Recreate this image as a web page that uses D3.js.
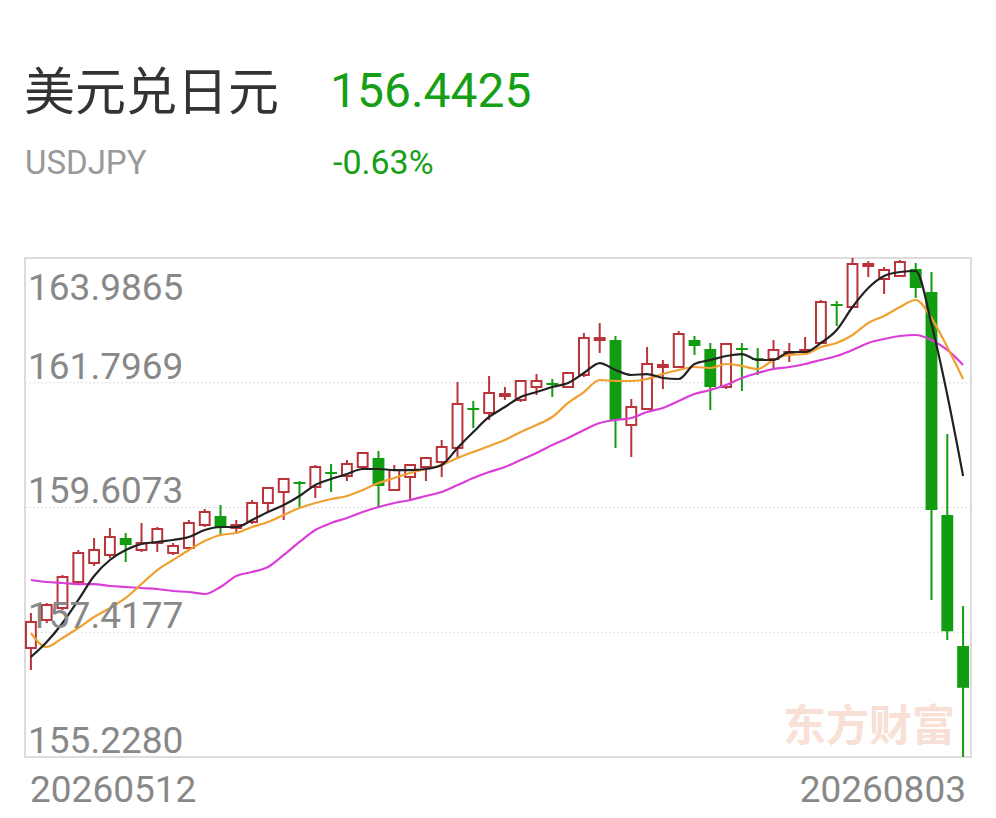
<!DOCTYPE html>
<html lang="zh">
<head>
  <meta charset="UTF-8">
  <title>美元兑日元 K线</title>
  <script src="https://d3js.org/d3.v7.min.js"></script>
  <style>
    html, body { margin: 0; padding: 0; background: #fff; }
    svg { display: block; }
  </style>
</head>
<body>
  <svg id="kline" width="996" height="818"></svg>

  <script>
    // header
    const titleText  = "美元兑日元";
    const codeText   = "USDJPY";
    const lastPrice  = "156.4425";
    const changeText = "-0.63%";

    // x labels (first / last trading day)
    const xLabels = ["20260512", "20260803"];
    // y labels
    const yTicks = [163.9865, 161.7969, 159.6073, 157.4177, 155.2280];

    // daily OHLC
    const openV = [157.141, 157.633, 157.843, 158.300, 158.633, 158.774, 159.072, 158.861, 158.984, 158.809,
      158.896, 159.300, 159.458, 159.248, 159.353, 159.686, 159.879, 160.055, 159.967, 160.230,
      160.160, 160.318, 160.476, 159.914, 160.143, 160.318, 160.406, 160.652, 161.354, 161.266,
      161.564, 161.494, 161.722, 161.792, 161.722, 161.933, 162.547, 162.547, 161.055, 161.336,
      162.073, 162.073, 162.547, 162.389, 161.722, 162.407, 162.231, 162.214, 162.302, 162.337,
      162.495, 163.179, 163.126, 163.846, 163.618, 163.671, 163.793, 163.390, 159.476, 157.176];
    const closeV = [157.598, 157.896, 158.387, 158.809, 158.861, 159.090, 158.949, 158.984, 159.230, 158.932,
      159.335, 159.528, 159.265, 159.300, 159.686, 159.950, 160.108, 160.020, 160.318, 160.195,
      160.371, 160.564, 159.985, 160.265, 160.353, 160.476, 160.669, 161.424, 161.319, 161.617,
      161.599, 161.828, 161.828, 161.757, 161.968, 162.582, 162.582, 161.143, 161.371, 162.126,
      162.108, 162.652, 162.442, 161.722, 162.477, 162.372, 162.196, 162.372, 162.337, 162.372,
      163.214, 163.144, 163.881, 163.881, 163.776, 163.916, 163.460, 159.563, 157.4345, 156.4425];
    const highV = [157.756, 157.931, 158.423, 158.861, 159.072, 159.248, 159.160, 159.335, 159.265, 158.984,
      159.388, 159.581, 159.651, 159.388, 159.739, 159.967, 160.125, 160.072, 160.353, 160.371,
      160.441, 160.581, 160.599, 160.353, 160.371, 160.494, 160.792, 161.810, 161.477, 161.915,
      161.722, 161.845, 161.951, 161.863, 161.986, 162.670, 162.846, 162.617, 161.512, 162.424,
      162.196, 162.705, 162.617, 162.495, 162.495, 162.495, 162.407, 162.547, 162.495, 162.600,
      163.249, 163.232, 163.9865, 163.934, 163.829, 163.951, 163.899, 163.741, 160.897, 157.878];
    const lowV = [156.755, 157.580, 157.808, 158.265, 158.580, 158.721, 158.651, 158.826, 158.826, 158.774,
      158.861, 159.265, 159.125, 159.142, 159.318, 159.528, 159.388, 159.616, 159.774, 159.879,
      160.072, 160.283, 159.598, 159.897, 159.756, 160.072, 160.143, 160.494, 161.003, 161.143,
      161.494, 161.459, 161.582, 161.547, 161.705, 161.898, 162.319, 160.652, 160.494, 161.319,
      161.687, 162.056, 162.284, 161.319, 161.687, 161.652, 161.933, 162.021, 162.161, 162.302,
      162.477, 162.793, 163.109, 163.653, 163.355, 163.653, 163.284, 157.984, 157.282, 155.228];

    // moving averages (black / orange / magenta)
    const ma5 = [156.983, 157.246, 157.580, 157.984, 158.405, 158.686, 158.861, 158.967, 159.002, 159.037,
      159.089, 159.212, 159.265, 159.265, 159.388, 159.528, 159.651, 159.809, 160.002, 160.108,
      160.195, 160.283, 160.283, 160.265, 160.265, 160.283, 160.353, 160.652, 160.932, 161.196,
      161.371, 161.547, 161.634, 161.722, 161.792, 161.968, 162.143, 162.021, 161.933, 161.950,
      161.880, 161.863, 162.126, 162.196, 162.266, 162.301, 162.196, 162.196, 162.337, 162.337,
      162.495, 162.723, 163.126, 163.460, 163.670, 163.741, 163.758, 162.828, 161.582, 160.160];
    const ma10 = [157.404, 157.159, 157.317, 157.492, 157.685, 157.843, 158.019, 158.264, 158.510, 158.686,
      158.861, 159.019, 159.125, 159.160, 159.265, 159.353, 159.476, 159.598, 159.686, 159.756,
      159.809, 159.914, 160.037, 160.125, 160.213, 160.283, 160.353, 160.476, 160.581, 160.687,
      160.792, 160.932, 161.055, 161.196, 161.442, 161.634, 161.845, 161.828, 161.828, 161.863,
      161.950, 162.021, 162.073, 162.056, 162.126, 162.091, 162.038, 162.196, 162.284, 162.301,
      162.424, 162.495, 162.635, 162.846, 162.969, 163.126, 163.249, 162.933, 162.424, 161.863];
    const ma20 = [158.335, 158.300, 158.282, 158.264, 158.264, 158.229, 158.212, 158.194, 158.177, 158.142,
      158.124, 158.089, 158.212, 158.405, 158.475, 158.563, 158.774, 159.002, 159.212, 159.335,
      159.423, 159.528, 159.616, 159.686, 159.739, 159.809, 159.879, 160.002, 160.125, 160.230,
      160.318, 160.441, 160.564, 160.704, 160.827, 160.968, 161.090, 161.143, 161.178, 161.284,
      161.354, 161.477, 161.599, 161.670, 161.757, 161.880, 161.968, 162.038, 162.073, 162.126,
      162.196, 162.266, 162.372, 162.495, 162.565, 162.617, 162.635, 162.547, 162.372, 162.108];

    const UP = "#b8343a", DOWN = "#119c11", GREEN_TXT = "#169f16";
    const numFont = "Roboto, 'Noto Sans', sans-serif";

    const svg = d3.select("#kline");
    const plot = { left: 25, right: 971, top: 258, bottom: 757 };

    // header texts
    svg.append("text")
      .attr("x", 24).attr("y", 110)
      .attr("font-family", "'Noto Sans CJK SC', sans-serif")
      .attr("font-size", 51).attr("fill", "#333")
      .text(titleText);
    svg.append("text")
      .attr("x", 330).attr("y", 107)
      .attr("font-family", numFont)
      .attr("font-size", 48).attr("fill", GREEN_TXT)
      .text(lastPrice);
    svg.append("text")
      .attr("x", 25).attr("y", 174)
      .attr("font-family", numFont)
      .attr("font-size", 33).attr("fill", "#999")
      .text(codeText);
    svg.append("text")
      .attr("x", 333).attr("y", 174)
      .attr("font-family", numFont)
      .attr("font-size", 34).attr("fill", GREEN_TXT)
      .text(changeText);

    // scales
    const idx = d3.range(openV.length);
    const x = d3.scaleBand().domain(idx).range([23, 971]).paddingInner(0.25).paddingOuter(0.125);
    const y = d3.scaleLinear().domain([d3.min(lowV), d3.max(highV)]).range([plot.bottom, plot.top]);
    const cx = i => x(i) + x.bandwidth() / 2;

    // watermark
    svg.append("text")
      .attr("x", 955).attr("y", 741)
      .attr("text-anchor", "end")
      .attr("font-family", "'Noto Sans CJK SC', sans-serif")
      .attr("font-weight", 700)
      .attr("font-size", 43).attr("fill", "#f8e0d6")
      .text("东方财富");

    // frame
    svg.append("rect")
      .attr("x", plot.left).attr("y", plot.top)
      .attr("width", plot.right - plot.left).attr("height", plot.bottom - plot.top)
      .attr("fill", "none").attr("stroke", "#dcdcdc").attr("stroke-width", 2);

    // dotted grid
    svg.append("g")
      .selectAll("line")
      .data(yTicks.slice(1, -1))
      .join("line")
        .attr("x1", plot.left).attr("x2", plot.right)
        .attr("y1", d => y(d)).attr("y2", d => y(d))
        .attr("stroke", "#dedede").attr("stroke-width", 1.2)
        .attr("stroke-dasharray", "2,2");

    // candles
    const candles = svg.append("g")
      .selectAll("g")
      .data(idx)
      .join("g");

    candles.append("line")
      .attr("x1", cx).attr("x2", cx)
      .attr("y1", i => y(highV[i])).attr("y2", i => y(lowV[i]))
      .attr("stroke", i => closeV[i] >= openV[i] ? UP : DOWN)
      .attr("stroke-width", 2);

    candles.append("rect")
      .attr("x", i => closeV[i] >= openV[i] ? x(i) + 1 : x(i))
      .attr("width", i => closeV[i] >= openV[i] ? x.bandwidth() - 2 : x.bandwidth())
      .attr("y", i => y(Math.max(openV[i], closeV[i])))
      .attr("height", i => Math.max(1.5, Math.abs(y(openV[i]) - y(closeV[i]))))
      .attr("fill", i => closeV[i] >= openV[i] ? "#fff" : DOWN)
      .attr("stroke", i => closeV[i] >= openV[i] ? UP : "none")
      .attr("stroke-width", 2);

    // moving average lines
    const maLine = arr => d3.line()
      .x((d, i) => cx(i))
      .y(d => y(d))
      .curve(d3.curveMonotoneX)(arr);

    [[ma20, "#d93fd6"], [ma10, "#f0a030"], [ma5, "#222"]].forEach(([arr, col]) => {
      svg.append("path")
        .attr("d", maLine(arr))
        .attr("fill", "none")
        .attr("stroke", col)
        .attr("stroke-width", 2.2);
    });

    // y labels: first under the top line, rest above their line
    svg.append("g")
      .selectAll("text")
      .data(yTicks)
      .join("text")
        .attr("x", 28)
        .attr("y", (d, i) => i === 0 ? y(d) + 42 : y(d) - 4)
        .attr("font-family", numFont)
        .attr("font-size", 37)
        .attr("fill", "#888")
        .text(d => d.toFixed(4));

    // x labels
    svg.append("text")
      .attr("x", 30).attr("y", 802)
      .attr("font-family", numFont)
      .attr("font-size", 37).attr("fill", "#888")
      .text(xLabels[0]);
    svg.append("text")
      .attr("x", 966).attr("y", 802)
      .attr("text-anchor", "end")
      .attr("font-family", numFont)
      .attr("font-size", 37).attr("fill", "#888")
      .text(xLabels[1]);
  </script>
</body>
</html>
